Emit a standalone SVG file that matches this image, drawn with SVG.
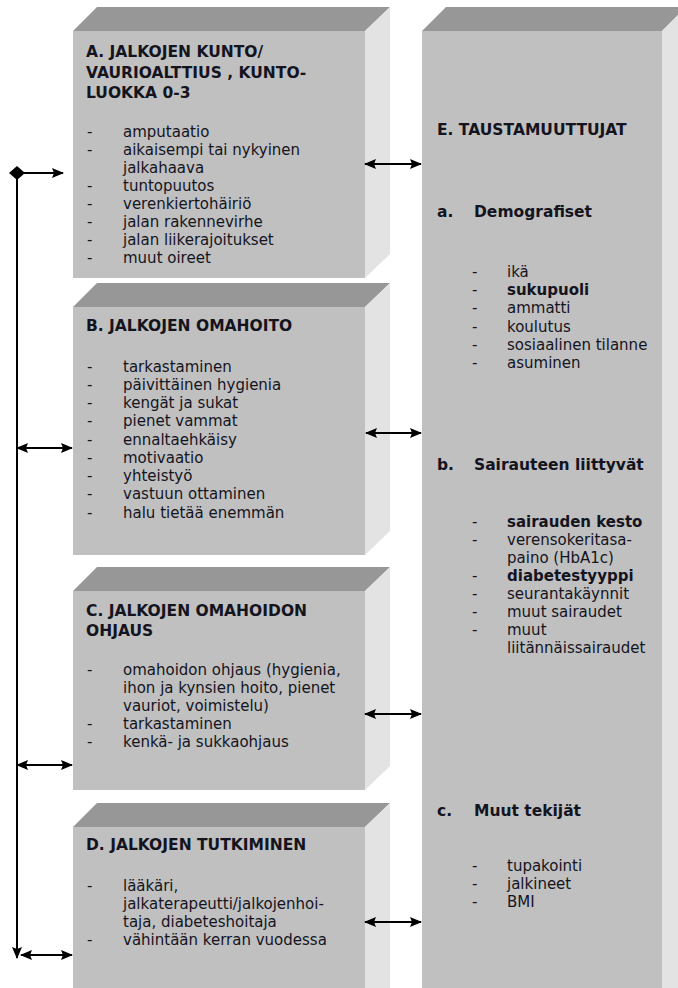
<svg xmlns="http://www.w3.org/2000/svg" width="678" height="988" viewBox="0 0 678 988">
  <style>
    .front { fill: #c0c0c0; }
    .top { fill: #979797; }
    .side { fill: #e3e3e3; }
    text { font-family: "DejaVu Sans", Verdana, sans-serif; fill: #14141e; }
    .title { font-size: 15.5px; font-weight: bold; }
    .item { font-size: 15px; }
    .b { font-weight: bold; }
    .link { stroke: #000; stroke-width: 2; fill: none; }
  </style>
  <defs>
    <marker id="head" viewBox="0 0 12 10" refX="11" refY="5" markerWidth="12" markerHeight="10" markerUnits="userSpaceOnUse" orient="auto-start-reverse">
      <path d="M0,0 L12,5 L0,10 L2,5 Z" fill="#000"/>
    </marker>
  </defs>

  <rect width="678" height="988" fill="#fff"/>

  <!-- A -->
  <g id="nodeA">
    <polygon class="top" points="73,31 97,7 390,7 365,31"/>
    <polygon class="side" points="365,31 390,7 390,254 365,278"/>
    <rect class="front" x="73" y="31" width="292" height="247"/>
    <text class="title" x="86" y="57">A. JALKOJEN KUNTO/</text>
    <text class="title" x="86" y="78">VAURIOALTTIUS , KUNTO-</text>
    <text class="title" x="86" y="98">LUOKKA 0-3</text>
    <g class="item">
      <text x="87" y="137">-</text><text x="123" y="137">amputaatio</text>
      <text x="87" y="155">-</text><text x="123" y="155">aikaisempi tai nykyinen</text>
      <text x="123" y="173">jalkahaava</text>
      <text x="87" y="191">-</text><text x="123" y="191">tuntopuutos</text>
      <text x="87" y="209">-</text><text x="123" y="209">verenkiertohäiriö</text>
      <text x="87" y="227">-</text><text x="123" y="227">jalan rakennevirhe</text>
      <text x="87" y="245">-</text><text x="123" y="245">jalan liikerajoitukset</text>
      <text x="87" y="263">-</text><text x="123" y="263">muut oireet</text>
    </g>
  </g>

  <!-- B -->
  <g id="nodeB">
    <polygon class="top" points="73,307 97,283 390,283 365,307"/>
    <polygon class="side" points="365,307 390,283 390,531 365,555"/>
    <rect class="front" x="73" y="307" width="292" height="248"/>
    <text class="title" x="86" y="331">B. JALKOJEN OMAHOITO</text>
    <g class="item">
      <text x="87" y="372">-</text><text x="123" y="372">tarkastaminen</text>
      <text x="87" y="390">-</text><text x="123" y="390">päivittäinen hygienia</text>
      <text x="87" y="408">-</text><text x="123" y="408">kengät ja sukat</text>
      <text x="87" y="426">-</text><text x="123" y="426">pienet vammat</text>
      <text x="87" y="445">-</text><text x="123" y="445">ennaltaehkäisy</text>
      <text x="87" y="463">-</text><text x="123" y="463">motivaatio</text>
      <text x="87" y="481">-</text><text x="123" y="481">yhteistyö</text>
      <text x="87" y="499">-</text><text x="123" y="499">vastuun ottaminen</text>
      <text x="87" y="518">-</text><text x="123" y="518">halu tietää enemmän</text>
    </g>
  </g>

  <!-- C -->
  <g id="nodeC">
    <polygon class="top" points="73,591 97,567 390,567 365,591"/>
    <polygon class="side" points="365,591 390,567 390,766 365,790"/>
    <rect class="front" x="73" y="591" width="292" height="199"/>
    <text class="title" x="86" y="616">C. JALKOJEN OMAHOIDON</text>
    <text class="title" x="86" y="636">OHJAUS</text>
    <g class="item">
      <text x="87" y="675">-</text><text x="123" y="675">omahoidon ohjaus (hygienia,</text>
      <text x="123" y="693">ihon ja kynsien hoito, pienet</text>
      <text x="123" y="711">vauriot, voimistelu)</text>
      <text x="87" y="729">-</text><text x="123" y="729">tarkastaminen</text>
      <text x="87" y="747">-</text><text x="123" y="747">kenkä- ja sukkaohjaus</text>
    </g>
  </g>

  <!-- D -->
  <g id="nodeD">
    <polygon class="top" points="73,827 97,803 390,803 365,827"/>
    <polygon class="side" points="365,827 390,803 390,988 365,988"/>
    <rect class="front" x="73" y="827" width="292" height="161"/>
    <text class="title" x="86" y="850">D. JALKOJEN TUTKIMINEN</text>
    <g class="item">
      <text x="87" y="891">-</text><text x="123" y="891">lääkäri,</text>
      <text x="123" y="909">jalkaterapeutti/jalkojenhoi-</text>
      <text x="123" y="927">taja, diabeteshoitaja</text>
      <text x="87" y="945">-</text><text x="123" y="945">vähintään kerran vuodessa</text>
    </g>
  </g>

  <!-- E -->
  <g id="nodeE">
    <polygon class="top" points="422,31 446,7 686,7 662,31"/>
    <polygon class="side" points="662,31 686,7 686,988 662,988"/>
    <rect class="front" x="422" y="31" width="240" height="957"/>
    <text class="title" x="437" y="135">E. TAUSTAMUUTTUJAT</text>
    <text class="title" x="437" y="217">a.</text><text class="title" x="474" y="217">Demografiset</text>
    <g class="item">
      <text x="472" y="277">-</text><text x="507" y="277">ikä</text>
      <text x="472" y="295">-</text><text x="507" y="295" class="b">sukupuoli</text>
      <text x="472" y="313">-</text><text x="507" y="313">ammatti</text>
      <text x="472" y="332">-</text><text x="507" y="332">koulutus</text>
      <text x="472" y="350">-</text><text x="507" y="350">sosiaalinen tilanne</text>
      <text x="472" y="368">-</text><text x="507" y="368">asuminen</text>
    </g>
    <text class="title" x="437" y="470">b.</text><text class="title" x="474" y="470">Sairauteen liittyvät</text>
    <g class="item">
      <text x="472" y="527">-</text><text x="507" y="527" class="b">sairauden kesto</text>
      <text x="472" y="545">-</text><text x="507" y="545">verensokeritasa-</text>
      <text x="507" y="563">paino (HbA1c)</text>
      <text x="472" y="581">-</text><text x="507" y="581" class="b">diabetestyyppi</text>
      <text x="472" y="599">-</text><text x="507" y="599">seurantakäynnit</text>
      <text x="472" y="617">-</text><text x="507" y="617">muut sairaudet</text>
      <text x="472" y="635">-</text><text x="507" y="635">muut</text>
      <text x="507" y="653">liitännäissairaudet</text>
    </g>
    <text class="title" x="437" y="816">c.</text><text class="title" x="474" y="816">Muut tekijät</text>
    <g class="item">
      <text x="472" y="871">-</text><text x="507" y="871">tupakointi</text>
      <text x="472" y="889">-</text><text x="507" y="889">jalkineet</text>
      <text x="472" y="907">-</text><text x="507" y="907">BMI</text>
    </g>
  </g>

  <!-- connectors -->
  <g id="connectors">
    <!-- left spine joining A-D -->
    <line class="link" x1="17" y1="173" x2="17" y2="958" marker-end="url(#head)"/>
    <polygon points="9,173 17,166 25,173 17,180" fill="#000"/>
    <line class="link" x1="17" y1="173" x2="63" y2="173" marker-end="url(#head)"/>
    <line class="link" x1="17" y1="448" x2="72" y2="448" marker-start="url(#head)" marker-end="url(#head)"/>
    <line class="link" x1="17" y1="765" x2="72" y2="765" marker-start="url(#head)" marker-end="url(#head)"/>
    <line class="link" x1="21" y1="955" x2="72" y2="955" marker-start="url(#head)" marker-end="url(#head)"/>
    <!-- links to E -->
    <line class="link" x1="365" y1="164" x2="421" y2="164" marker-start="url(#head)" marker-end="url(#head)"/>
    <line class="link" x1="366" y1="433" x2="421" y2="433" marker-start="url(#head)" marker-end="url(#head)"/>
    <line class="link" x1="365" y1="714" x2="421" y2="714" marker-start="url(#head)" marker-end="url(#head)"/>
    <line class="link" x1="365" y1="922" x2="421" y2="922" marker-start="url(#head)" marker-end="url(#head)"/>
  </g>
</svg>
